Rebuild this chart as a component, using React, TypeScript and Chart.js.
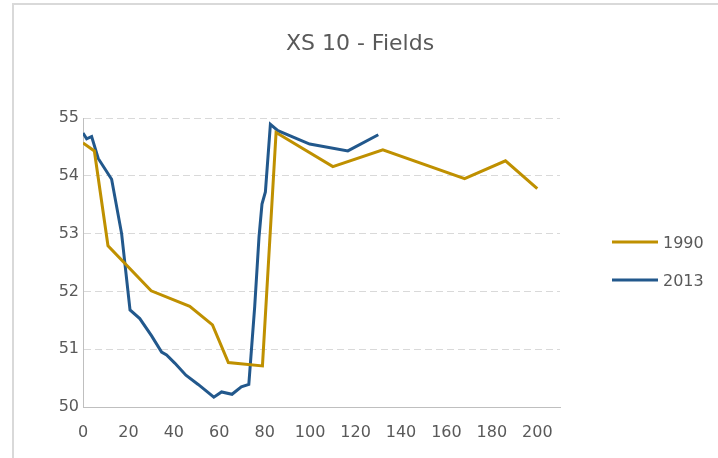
import React, { useEffect, useRef } from "react";
import { Chart, registerables } from "chart.js";

Chart.register(...registerables);

const titleText = "XS 10 - Fields";
const seriesNames = ["1990", "2013"];
const seriesColors = ["#BF9000", "#22588C"];

const x1990 = [0, 5, 11, 30, 47, 57, 64, 79, 85, 110, 132, 168, 186, 200];
const y1990 = [54.57, 54.43, 52.79, 52.01, 51.74, 51.42, 50.77, 50.71, 54.75, 54.16, 54.45, 53.95, 54.26, 53.78];

const x2013 = [0, 1.6, 3.8, 6.7, 12.6, 17, 20.7, 25, 30.2, 34.6, 36.8, 40.4, 45.3, 50.7, 57.6, 61, 65.6, 69.7, 73, 75.6, 77.5, 78.8, 80.3, 82.5, 85.8, 99.8, 116.6, 130];
const y2013 = [54.74, 54.64, 54.68, 54.3, 53.94, 53.0, 51.68, 51.53, 51.23, 50.95, 50.9, 50.76, 50.55, 50.39, 50.17, 50.26, 50.22, 50.35, 50.39, 51.74, 52.95, 53.51, 53.72, 54.89, 54.78, 54.55, 54.43, 54.71];

const xTicks = [0, 20, 40, 60, 80, 100, 120, 140, 160, 180, 200];
const yTicks = [50, 51, 52, 53, 54, 55];

const FONT = "'DejaVu Sans', sans-serif";
const TEXT = "#595959";

const overlayPlugin = {
  id: "overlay",
  afterDraw(chart: any) {
    const ctx = chart.ctx;
    ctx.save();
    ctx.fillStyle = TEXT;
    ctx.font = `22px ${FONT}`;
    ctx.textAlign = "center";
    ctx.textBaseline = "alphabetic";
    ctx.fillText(titleText, 360, 50);
    const ys = [242, 280];
    seriesNames.forEach((n, i) => {
      ctx.strokeStyle = seriesColors[i];
      ctx.lineWidth = 3;
      ctx.beginPath();
      ctx.moveTo(612, ys[i]);
      ctx.lineTo(658, ys[i]);
      ctx.stroke();
      ctx.font = `16px ${FONT}`;
      ctx.textAlign = "left";
      ctx.textBaseline = "alphabetic";
      ctx.fillStyle = TEXT;
      ctx.fillText(n, 663, ys[i] + 6);
    });
    ctx.restore();
  },
};

export default function App() {
  const ref = useRef<HTMLCanvasElement>(null);
  useEffect(() => {
    if (!ref.current) return;
    const chart = new Chart(ref.current, {
      type: "scatter",
      data: {
        datasets: [
          {
            label: seriesNames[0],
            data: x1990.map((x, i) => ({ x, y: y1990[i] })),
            showLine: true,
            borderColor: seriesColors[0],
            backgroundColor: seriesColors[0],
            borderWidth: 3,
            pointRadius: 0,
            tension: 0,
          },
          {
            label: seriesNames[1],
            data: x2013.map((x, i) => ({ x, y: y2013[i] })),
            showLine: true,
            borderColor: seriesColors[1],
            backgroundColor: seriesColors[1],
            borderWidth: 3,
            pointRadius: 0,
            tension: 0,
          },
        ],
      },
      options: {
        responsive: false,
        animation: false,
        layout: { padding: { left: 0, right: 158, top: 118, bottom: 0 } },
        plugins: { legend: { display: false }, title: { display: false }, tooltip: { enabled: false } },
        scales: {
          x: {
            type: "linear",
            min: 0,
            max: 210,
            afterBuildTicks: (s: any) => {
              s.ticks = xTicks.map((v) => ({ value: v }));
            },
            afterFit: (s: any) => {
              s.height = 51;
            },
            grid: { display: false, drawTicks: false },
            border: { display: true, color: "#bfbfbf", width: 1 },
            ticks: { color: TEXT, font: { size: 16, family: FONT }, padding: 16, maxRotation: 0, autoSkip: false },
          },
          y: {
            type: "linear",
            min: 50,
            max: 55,
            afterBuildTicks: (s: any) => {
              s.ticks = yTicks.map((v) => ({ value: v }));
            },
            afterFit: (s: any) => {
              s.width = 83;
            },
            grid: { color: "#d9d9d9", drawTicks: false, lineWidth: 1 },
            border: { display: true, color: "#bfbfbf", width: 1, dash: [7, 4] },
            ticks: { color: TEXT, font: { size: 16, family: FONT }, padding: 4 },
          },
        },
      },
      plugins: [overlayPlugin],
    } as any);
    return () => chart.destroy();
  }, []);
  return (
    <div style={{ position: "fixed", left: 0, top: 0, width: 718, height: 458, background: "#fff", overflow: "hidden" }}>
      <div
        style={{
          position: "absolute",
          left: 12,
          top: 3,
          width: 706,
          height: 455,
          borderTop: "2px solid #d9d9d9",
          borderLeft: "2px solid #d9d9d9",
          boxSizing: "border-box",
        }}
      />
      <canvas ref={ref} width={718} height={458} style={{ position: "absolute", left: 0, top: 0 }} />
    </div>
  );
}
